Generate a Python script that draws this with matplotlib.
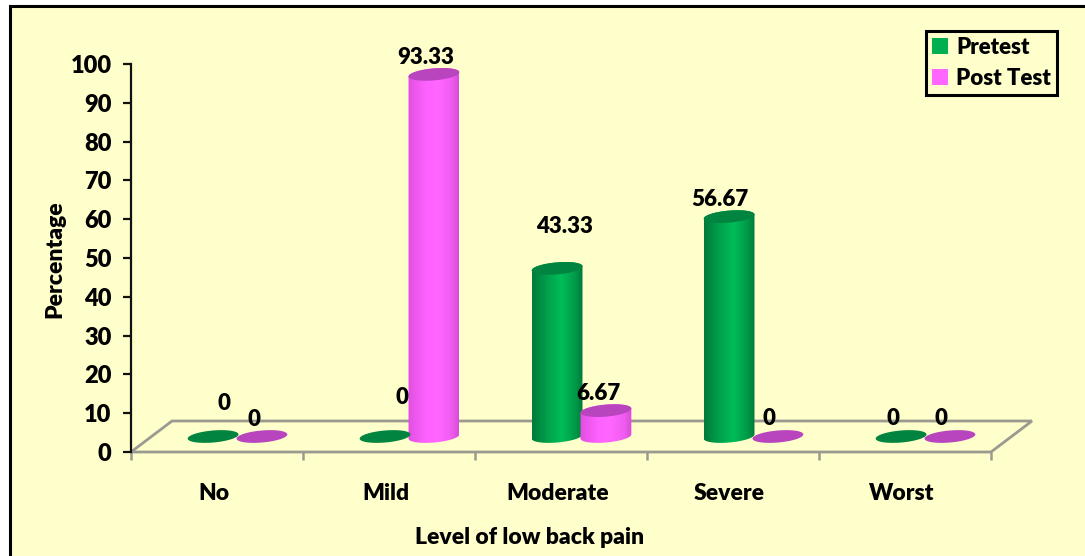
import numpy as np
import matplotlib
matplotlib.use("Agg")
import matplotlib.pyplot as plt
from matplotlib.colors import LinearSegmentedColormap
from matplotlib.patches import Patch, Polygon, Rectangle
from matplotlib.transforms import ScaledTranslation

# Data
categories = ["No", "Mild", "Moderate", "Severe", "Worst"]
pretest = [0, 0, 43.33, 56.67, 0]
post_test = [0, 93.33, 6.67, 0, 0]
y_ticks = list(range(0, 101, 10))

# Figure and plot box, laid out in pixels
W, H = 1085, 556
LEFT, RIGHT, TOP, BOTTOM = 131, 991, 64, 452
PX_X = (RIGHT - LEFT) / 5
PX_Y = (BOTTOM - TOP) / 100
DEPTH_X, DEPTH_Y = 41 / PX_X, 31 / PX_Y     # depth of the pseudo-3D floor
BAR_A, BAR_B, TILT = 25.5, 6.0, np.deg2rad(5)
BAR_SHIFT = 0.142

BG = "#FFFFCC"
WEIGHT = "heavy"
plt.rcParams["font.family"] = ["Lato", "DejaVu Sans"]
plt.rcParams["font.weight"] = WEIGHT

fig = plt.figure(figsize=(W / 100, H / 100), dpi=100, facecolor="white")
fig.add_artist(Rectangle((9.5 / W, -0.1), 1.2, 1.1 - 5.5 / H, transform=fig.transFigure,
                         fc=BG, ec="black", lw=2.2, zorder=-1))
ax = fig.add_axes([LEFT / W, 1 - BOTTOM / H, (RIGHT - LEFT) / W, (BOTTOM - TOP) / H])
ax.patch.set_alpha(0)
ax.set_xlim(0, 5)
ax.set_ylim(0, 100)

green_cmap = LinearSegmentedColormap.from_list(
    "g", [(0, "#007A3A"), (0.3, "#00A04C"), (0.58, "#00BD58"), (0.85, "#009A49"), (1, "#007A3A")])
pink_cmap = LinearSegmentedColormap.from_list(
    "p", [(0, "#E04FE0"), (0.35, "#FF62FF"), (0.6, "#FF66FF"), (0.85, "#F05CF0"), (1, "#D84CD8")])
GREEN_TOP, PINK_TOP = "#00843F", "#B945BE"


def rim(cx, cy, t):
    """Points on a slightly tilted ellipse, in data coordinates."""
    ex = BAR_A * np.cos(t) * np.cos(TILT) - BAR_B * np.sin(t) * np.sin(TILT)
    ey = BAR_A * np.cos(t) * np.sin(TILT) + BAR_B * np.sin(t) * np.cos(TILT)
    return np.column_stack([cx + ex / PX_X, cy + ey / PX_Y])


def cylinder(cx, value, cmap, cap_color):
    base = DEPTH_Y / 2
    top = base + value
    if value > 0:
        outline = np.vstack([rim(cx, top, np.linspace(0, np.pi, 60)),
                             rim(cx, base, np.linspace(np.pi, 2 * np.pi, 60))])
        body = Polygon(outline, closed=True, fc="none", ec="none", clip_on=False)
        ax.add_patch(body)
        half = BAR_A / PX_X
        im = ax.imshow(np.linspace(0, 1, 128)[None, :], cmap=cmap, aspect="auto",
                       extent=(cx - half, cx + half, base - 3, top + 3), zorder=3)
        im.set_clip_path(body)
    cap = Polygon(rim(cx, top, np.linspace(0, 2 * np.pi, 120)), closed=True,
                  fc=cap_color, ec="none", clip_on=False, zorder=4)
    ax.add_patch(cap)


# Floor of the 3D box
floor = Polygon([(0, 0), (5, 0), (5 + DEPTH_X, DEPTH_Y), (DEPTH_X, DEPTH_Y)], closed=True,
                fc="none", ec="#9A9A90", lw=2, clip_on=False, zorder=1)
ax.add_patch(floor)

# Cylinders, back-to-front within each category
centres = np.arange(len(categories)) + 0.5 + DEPTH_X / 2
for i, c in enumerate(centres):
    cylinder(c - BAR_SHIFT, pretest[i], green_cmap, GREEN_TOP)
    cylinder(c + BAR_SHIFT, post_test[i], pink_cmap, PINK_TOP)

ax.set_xlim(0, 5)
ax.set_ylim(0, 100)

# Value labels: pixel nudges from the top centre of each cylinder
pre_nudge = [(11, 33), (17, 39), (7, 42), (-9, 17), (-8, 18)]
post_nudge = [(-8, 17), (-8, 17), (-8, 17), (-9, 18), (-9, 18)]
for i, c in enumerate(centres):
    for shift, vals, nudge in ((-BAR_SHIFT, pretest, pre_nudge), (BAR_SHIFT, post_test, post_nudge)):
        ax.annotate(f"{vals[i]:g}", (c + shift, DEPTH_Y / 2 + vals[i]), xycoords="data",
                    xytext=(nudge[i][0] * 0.72, nudge[i][1] * 0.72), textcoords="offset points",
                    ha="center", va="center", fontsize=16, fontweight=WEIGHT,
                    color="black", zorder=6, annotation_clip=False)

# Axes
for s in ("top", "right", "bottom"):
    ax.spines[s].set_visible(False)
ax.spines["left"].set_linewidth(1.6)
ax.spines["left"].set_color("#111111")
ax.set_yticks(y_ticks)
ax.tick_params(axis="y", length=6, width=1.6, pad=8, labelsize=17, color="#111111")
ax.set_xticks(range(6))
ax.set_xticklabels([])
ax.tick_params(axis="x", which="major", length=6, width=1.8, color="#9A9A90")
ax.set_xticks(np.arange(5) + 0.5, categories, minor=True)
ax.tick_params(axis="x", which="minor", length=0, pad=22, labelsize=16.5)
for lab in ax.get_yticklabels() + ax.get_xticklabels(minor=True):
    lab.set_fontweight(WEIGHT)
for lab in ax.get_xticklabels(minor=True):
    lab.set_transform(lab.get_transform() + ScaledTranslation(-3.5 / 100, 0, fig.dpi_scale_trans))

fig.text(55 / W, 1 - 259 / H, "Percentage", rotation=90, ha="center", va="center",
         fontsize=16.5, fontweight=WEIGHT)
fig.text(530 / W, 1 - 537 / H, "Level of low back pain", ha="center", va="center",
         fontsize=16.5, fontweight=WEIGHT)

# Legend
leg = fig.legend(handles=[Patch(fc="#00B050", label="Pretest"), Patch(fc="#FF66FF", label="Post Test")],
                 loc="upper left", bbox_to_anchor=(926 / W, 1 - 30.5 / H), borderaxespad=0,
                 fontsize=16, frameon=True, fancybox=False, facecolor=BG, edgecolor="black",
                 framealpha=1, handlelength=0.72, handleheight=0.72, handletextpad=0.35,
                 labelspacing=0.46, borderpad=0.28)
leg.get_frame().set_linewidth(2.2)

fig.savefig("out.png", dpi=100, facecolor=fig.get_facecolor())
